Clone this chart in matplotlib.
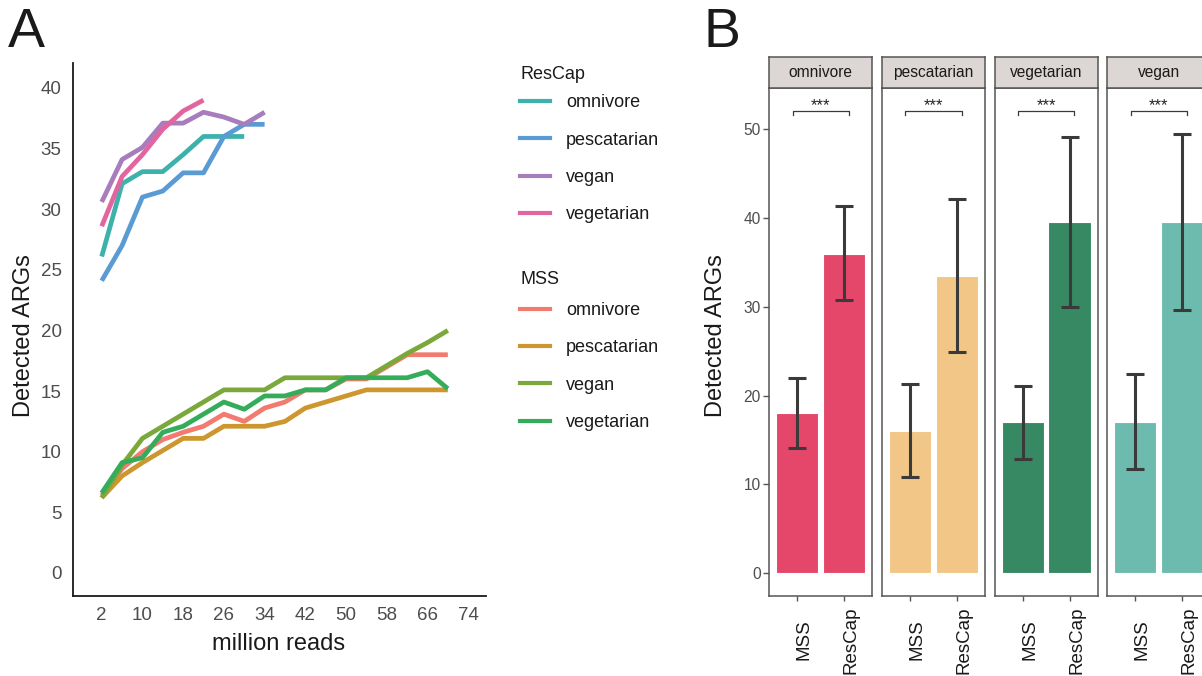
import matplotlib
matplotlib.use("Agg")
import matplotlib.pyplot as plt
from matplotlib.lines import Line2D
from matplotlib.transforms import ScaledTranslation
import numpy as np

plt.rcParams['font.family'] = ['Liberation Sans', 'DejaVu Sans']

# ---------------- Panel A data ----------------
mss_reads = [2, 6, 10, 14, 18, 22, 26, 30, 34, 38, 42, 46, 50, 54, 58, 62, 66, 70]
mss_omnivore = [6.4, 8.6, 10.0, 11.0, 11.6, 12.1, 13.1, 12.5, 13.6, 14.1, 15.1, 15.1, 16.0, 16.0, 17.0, 18.0, 18.0, 18.0]
mss_pescatarian = [6.2, 8.0, 9.1, 10.1, 11.1, 11.1, 12.1, 12.1, 12.1, 12.5, 13.6, 14.1, 14.6, 15.1, 15.1, 15.1, 15.1, 15.1]
mss_vegan = [6.2, 8.9, 11.1, 12.1, 13.1, 14.1, 15.1, 15.1, 15.1, 16.1, 16.1, 16.1, 16.1, 16.1, 17.1, 18.1, 19.0, 20.0]
mss_vegetarian = [6.6, 9.1, 9.5, 11.6, 12.1, 13.1, 14.1, 13.5, 14.6, 14.6, 15.1, 15.1, 16.1, 16.1, 16.1, 16.1, 16.6, 15.2]

rescap_reads_omnivore = [2, 6, 10, 14, 18, 22, 26, 30]
rescap_omnivore = [26.1, 32.1, 33.1, 33.1, 34.5, 36.0, 36.0, 36.0]
rescap_reads_pescatarian = [2, 6, 10, 14, 18, 22, 26, 30, 34]
rescap_pescatarian = [24.1, 27.0, 31.0, 31.5, 33.0, 33.0, 36.0, 37.0, 37.0]
rescap_reads_vegan = [2, 6, 10, 14, 18, 22, 26, 30, 34]
rescap_vegan = [30.6, 34.1, 35.1, 37.1, 37.1, 38.0, 37.6, 37.0, 38.0]
rescap_reads_vegetarian = [2, 6, 10, 14, 18, 22]
rescap_vegetarian = [28.6, 32.7, 34.5, 36.6, 38.1, 39.0]

diet_labels = ['omnivore', 'pescatarian', 'vegan', 'vegetarian']
rescap_colors = ['#3DB2AD', '#5B9BD3', '#A77DBE', '#E3659F']
mss_colors = ['#F27A6E', '#CD962E', '#7BA83A', '#35AC5A']

x_ticks_a = [2, 10, 18, 26, 34, 42, 50, 58, 66, 74]
y_ticks_a = [0, 5, 10, 15, 20, 25, 30, 35, 40]

# ---------------- Panel B data ----------------
facet_diets = ['omnivore', 'pescatarian', 'vegetarian', 'vegan']
methods = ['MSS', 'ResCap']
mss_mean = [18.0, 16.0, 17.0, 17.0]
mss_low = [14.1, 10.8, 12.9, 11.7]
mss_high = [22.0, 21.3, 21.1, 22.4]
rescap_mean = [36.0, 33.5, 39.5, 39.5]
rescap_low = [30.8, 24.9, 30.0, 29.6]
rescap_high = [41.3, 42.1, 49.1, 49.4]
sig_labels = ['***', '***', '***', '***']
sig_y = 52.1
facet_colors = ['#E5476A', '#F2C686', '#368963', '#6CBBAE']
y_ticks_b = [0, 10, 20, 30, 40, 50]

W, H = 1202, 676
fig = plt.figure(figsize=(W / 100, H / 100), dpi=100)
fig.patch.set_facecolor('white')


def fx(px):
    return px / W


def fy(py):
    return 1 - py / H


# ================= Panel A =================
axA = fig.add_axes([fx(72.7), fy(596), fx(486) - fx(72.7), fy(63) - fy(596)])
for xs, ys, c in zip([rescap_reads_omnivore, rescap_reads_pescatarian, rescap_reads_vegan, rescap_reads_vegetarian],
                     [rescap_omnivore, rescap_pescatarian, rescap_vegan, rescap_vegetarian], rescap_colors):
    axA.plot(xs, ys, color=c, lw=3.4, solid_capstyle='butt', solid_joinstyle='round')
for ys, c in zip([mss_omnivore, mss_pescatarian, mss_vegan, mss_vegetarian], mss_colors):
    axA.plot(mss_reads, ys, color=c, lw=3.4, solid_capstyle='butt', solid_joinstyle='round')

axA.set_xlim(-3.7, 77.5)
axA.set_ylim(-1.9, 42.06)
axA.set_xticks(x_ticks_a)
axA.set_yticks(y_ticks_a)
axA.tick_params(length=0, labelsize=13.5, labelcolor='#4D4D4D', pad=8)
for s in ['top', 'right']:
    axA.spines[s].set_visible(False)
for s in ['left', 'bottom']:
    axA.spines[s].set_linewidth(1.3)
    axA.spines[s].set_color('#1A1A1A')
fig.text(fx(279), fy(650), 'million reads', fontsize=17, ha='center', va='baseline', color='#1A1A1A')
fig.text(fx(24), fy(336), 'Detected ARGs', fontsize=17, ha='center', va='center', rotation=90, color='#1A1A1A')
fig.text(fx(8), fy(47), 'A', fontsize=40, ha='left', va='baseline', color='#1A1A1A')

# legends
h_res = [Line2D([], [], color=c, lw=3) for c in rescap_colors]
h_mss = [Line2D([], [], color=c, lw=3) for c in mss_colors]
leg_kw = dict(frameon=False, fontsize=13, title_fontsize=13, handlelength=1.66, handletextpad=0.9,
              labelspacing=1.13, alignment='left', borderpad=0, borderaxespad=0, loc='upper left')
leg1 = fig.legend(h_res, diet_labels, title='ResCap', bbox_to_anchor=(fx(520), fy(66)), **leg_kw)
leg2 = fig.legend(h_mss, diet_labels, title='MSS', bbox_to_anchor=(fx(520), fy(271)), **leg_kw)
leg1._legend_box.sep = 8
leg2._legend_box.sep = 10
for lg in (leg1, leg2):
    for t in lg.get_texts():
        t.set_color('#1A1A1A')
    lg.get_title().set_color('#1A1A1A')

# ================= Panel B =================
panel_w = 103
step = 112.67
x0 = 769.3
top, bottom = 88.3, 596
strip_top = 57.3
for i, diet in enumerate(facet_diets):
    left = x0 + i * step
    ax = fig.add_axes([fx(left), fy(bottom), fx(panel_w), fy(top) - fy(bottom)])
    means = [mss_mean[i], rescap_mean[i]]
    lows = [mss_low[i], rescap_low[i]]
    highs = [mss_high[i], rescap_high[i]]
    xpos = np.arange(len(methods))
    ax.bar(xpos, means, width=0.9, color=facet_colors[i], edgecolor='white', linewidth=0.8, zorder=2)
    yerr = np.array([np.array(means) - np.array(lows), np.array(highs) - np.array(means)])
    ax.errorbar(xpos, means, yerr=yerr, fmt='none', ecolor='#3A3A3A', elinewidth=2.2,
                capsize=6.4, capthick=2.2, zorder=3)
    # significance bracket
    bx = [xpos[0] - 0.1, xpos[0] - 0.1, xpos[1] + 0.1, xpos[1] + 0.1]
    by = [sig_y - 0.5, sig_y, sig_y, sig_y - 0.5]
    ax.plot(bx, by, color='#3A3A3A', lw=0.9, zorder=3)
    ax.text((xpos[0] + xpos[1]) / 2, sig_y + 0.05, sig_labels[i], ha='center', va='baseline',
            fontsize=12, color='#222222')
    ax.set_xlim(-0.6, 1.6)
    ax.set_ylim(-2.56, 54.6)
    ax.set_xticks(xpos)
    ax.set_xticklabels(methods, rotation=90, fontsize=13.5, color='#1A1A1A', va='center', ha='center')
    ax.tick_params(axis='x', length=3.6, width=1.0, color='#555555', pad=28)
    off = ScaledTranslation(7 / 100, 0, fig.dpi_scale_trans)
    for lab in ax.get_xticklabels():
        lab.set_transform(lab.get_transform() + off)
    if i == 0:
        ax.set_yticks(y_ticks_b)
        ax.tick_params(axis='y', length=4.3, width=1.0, color='#555555', labelsize=11.2,
                       labelcolor='#4D4D4D', pad=2)
    else:
        ax.set_yticks([])
    for s in ax.spines.values():
        s.set_color('#555555')
        s.set_linewidth(1.1)
    # strip
    sax = fig.add_axes([fx(left), fy(top), fx(panel_w), fy(strip_top) - fy(top)])
    sax.set_facecolor('#DCD7D5')
    sax.set_xticks([])
    sax.set_yticks([])
    for s in sax.spines.values():
        s.set_color('#555555')
        s.set_linewidth(1.1)
    sax.text(0.5, 0.5, diet, ha='center', va='center', fontsize=11.2, color='#1A1A1A',
             transform=sax.transAxes)

fig.text(fx(716), fy(336), 'Detected ARGs', fontsize=17, ha='center', va='center', rotation=90, color='#1A1A1A')
fig.text(fx(703.5), fy(47), 'B', fontsize=40, ha='left', va='baseline', color='#1A1A1A')

fig.savefig('out.png', dpi=100, facecolor='white')
